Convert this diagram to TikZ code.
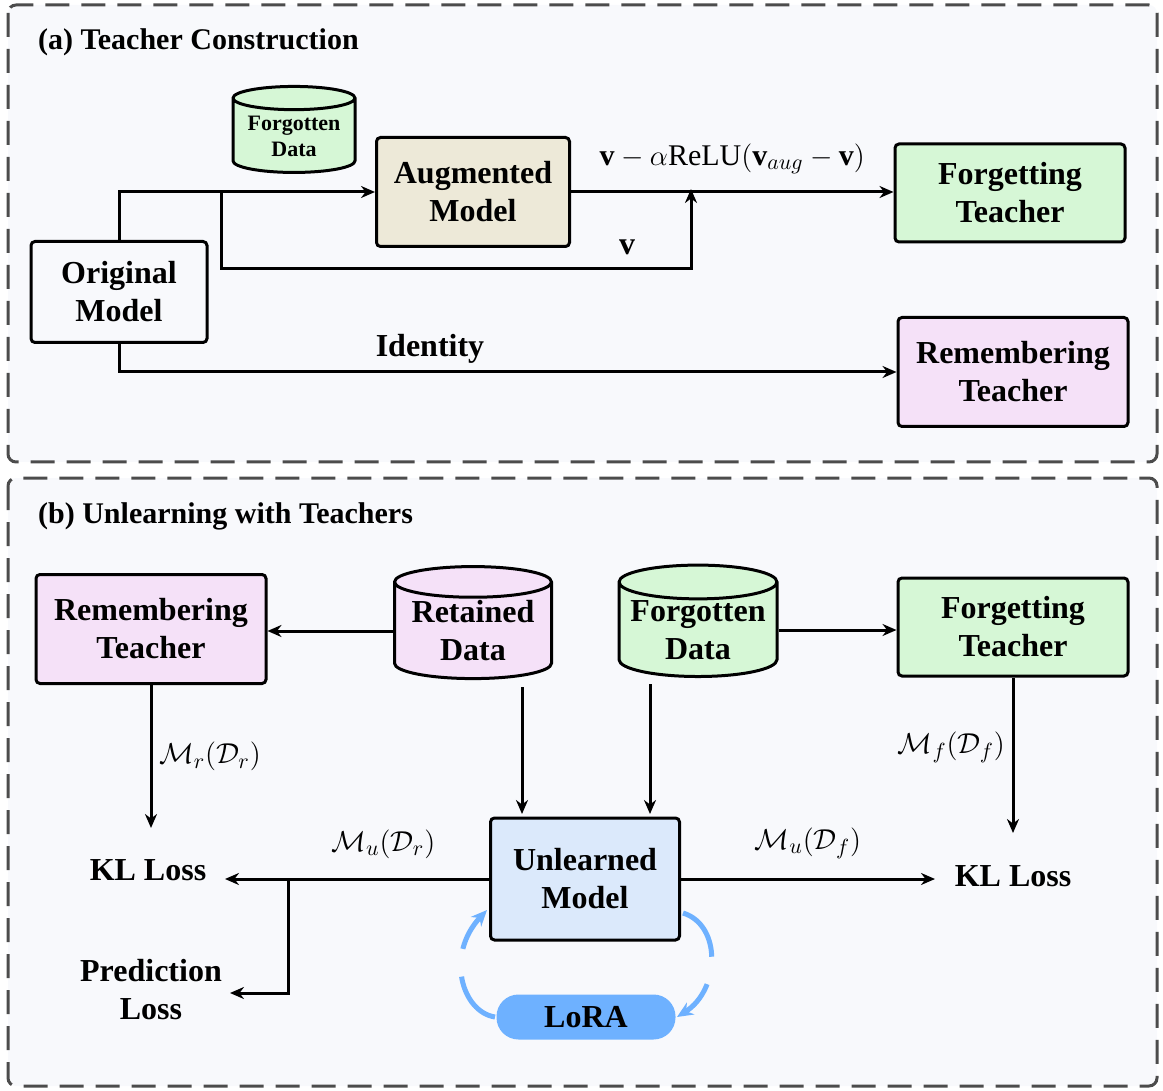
\documentclass[tikz,border=0pt]{standalone}
\usepackage{amsmath}
\usepackage{fontspec}
\setmainfont{Liberation Serif}
\usetikzlibrary{arrows.meta, shapes.geometric}

\definecolor{panelbg}{HTML}{F8F9FC}
\definecolor{beige}{HTML}{EDE9D8}
\definecolor{mint}{HTML}{D6F7D6}
\definecolor{lilac}{HTML}{F5E1F8}
\definecolor{sky}{HTML}{DBE9FB}
\definecolor{lora}{HTML}{6EB1FF}

\begin{document}
\begin{tikzpicture}[x=0.5pt, y=-0.5pt, >={Stealth[length=7pt,width=6pt]}, line width=1.5pt,
		box/.style={draw, rounded corners=2pt, align=center, inner sep=0pt, font=\fontsize{16}{19}\selectfont\bfseries},
		db/.style={draw, cylinder, shape border rotate=90, aspect=0.25, align=center, inner sep=0pt, font=\fontsize{16}{19}\selectfont\bfseries},
		lbl/.style={font=\fontsize{16}{19}\selectfont\bfseries},
		panel/.style={draw=black!70, dashed, dash pattern=on 12pt off 6pt, fill=panelbg, rounded corners=4pt},
		loraarc/.style={draw=lora, line width=2.5pt, dash pattern=on 28pt off 14pt, -{Stealth[length=8pt,width=7pt]}}]
		\useasboundingbox (0, 0) rectangle (1163, 1091);
		\draw[panel] (8, 5) rectangle (1157, 462);
		\draw[panel] (8, 478) rectangle (1157, 1086);
		\node[anchor=west, font=\fontsize{15}{18}\selectfont\bfseries] (ta) at (30, 42) {(a) Teacher Construction};
		\node[anchor=west, font=\fontsize{15}{18}\selectfont\bfseries] (tb) at (30, 516) {(b) Unlearning with Teachers};

		% teacher construction
		\node[box, minimum width=88pt, minimum height=50.5pt] (orig) at (119, 292) {Original\\Model};
		\node[box, fill=beige, minimum width=96.5pt, minimum height=54.5pt] (aug) at (473, 192) {Augmented\\Model};
		\node[db, fill=mint, minimum width=61pt, minimum height=43pt, font=\fontsize{11}{13}\selectfont\bfseries] (fdata) at (294, 136) {Forgotten\\Data};
		\node[box, fill=mint, minimum width=115pt, minimum height=49pt] (fteach) at (1010, 193) {Forgetting\\Teacher};
		\node[box, fill=lilac, minimum width=115pt, minimum height=54.5pt] (rteach) at (1013, 372) {Remembering\\Teacher};
		\coordinate (split) at (221, 192);
		\coordinate (join) at (691, 192);

		\draw[->] (orig.north) |- (aug.west);
		\draw[->] (split) |- (691, 269) -- ([yshift=1.5pt]join);
		\draw[->] (aug.east) -- node[above, font=\fontsize{15}{18}\selectfont, yshift=5pt] {$\mathbf{v}-\alpha\mathrm{ReLU}(\mathbf{v}_{aug}-\mathbf{v})$} (fteach.west |- aug.east);
		\node[lbl] (vl) at (627, 247) {$\mathbf{v}$};
		\draw[->] (orig.south) |- node[pos=0.7, above, lbl] {Identity} (rteach.west);

		% unlearning with teachers
		\node[box, fill=lilac, minimum width=115pt, minimum height=54.5pt] (rteach2) at (151, 629) {Remembering\\Teacher};
		\node[db, fill=lilac, minimum width=78.5pt, minimum height=56pt] (rdata) at (473, 631) {Retained\\Data};
		\node[db, fill=mint, minimum width=79pt, minimum height=54.5pt] (fdata2) at (698, 630) {Forgotten\\Data};
		\node[box, fill=mint, minimum width=115pt, minimum height=49pt] (fteach2) at (1013, 627) {Forgetting\\Teacher};
		\node[box, fill=sky, minimum width=94.5pt, minimum height=61pt] (unl) at (585, 879) {Unlearned\\Model};
		\node[lbl] (kll) at (148, 870) {KL Loss};
		\node[lbl] (klr) at (1013, 876) {KL Loss};
		\node[lbl, align=center] (pred) at (151, 990) {Prediction\\Loss};
		\node[fill=lora, rounded corners=11pt, minimum width=89.5pt, minimum height=22.5pt, inner sep=0pt, lbl] (lo) at (586, 1017) {LoRA};
		\coordinate (fork) at (288, 879);

		\draw[->] (rdata.west |- 631, 631) -- (rteach2.east |- 631, 631);
		\draw[->] (fdata2.east |- 630, 630) -- (fteach2.west |- 630, 630);
		\draw[->] (rteach2.south) -- node[right, font=\fontsize{15}{18}\selectfont] {$\mathcal{M}_r(\mathcal{D}_r)$} (151, 828);
		\draw[->] (fteach2.south) -- node[left, font=\fontsize{15}{18}\selectfont, pos=0.45] {$\mathcal{M}_f(\mathcal{D}_f)$} (1013, 833);
		\draw[->] (522, 687) -- (522, 814);
		\draw[->] (650, 684) -- (650, 814);
		\draw[->] (unl.west) -- node[pos=0.4, above=6pt, font=\fontsize{15}{18}\selectfont] {$\mathcal{M}_u(\mathcal{D}_r)$} (225, 879);
		\draw[->] (fork) |- (230, 993);
		\draw[->] (unl.east) -- node[pos=0.5, above=6pt, font=\fontsize{15}{18}\selectfont] {$\mathcal{M}_u(\mathcal{D}_f)$} (935, 879);
		\draw[loraarc] (lo.west) .. controls (462, 1012) and (445, 955) .. (487, 910);
		\draw[loraarc] (683, 913) .. controls (722, 925) and (720, 990) .. (lo.east);
	\end{tikzpicture}
\end{document}
